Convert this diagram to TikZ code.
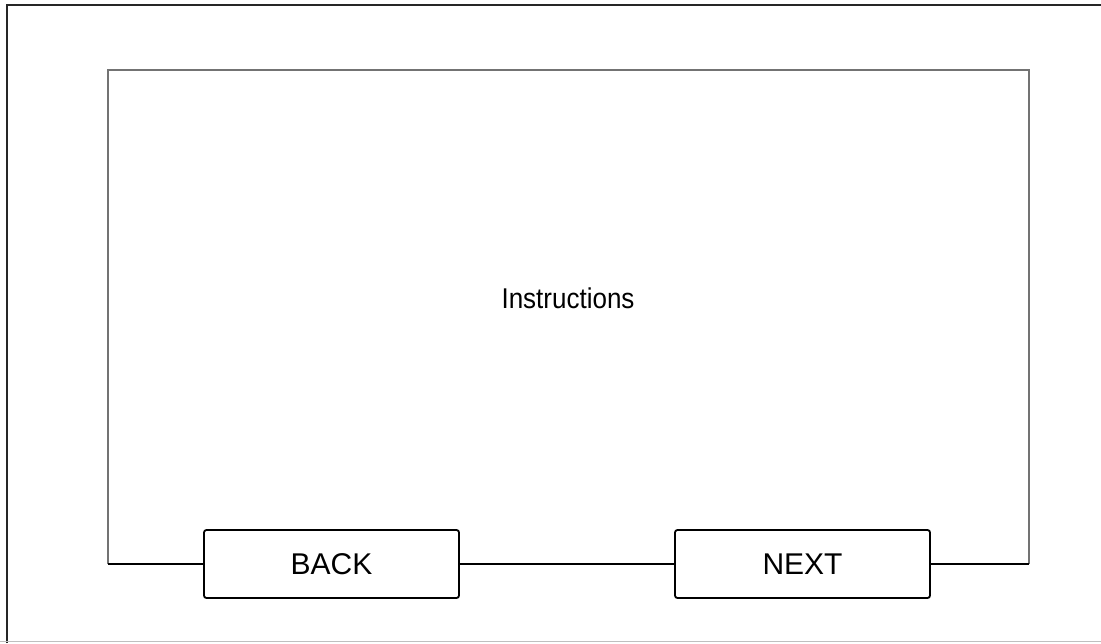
\documentclass[tikz,border=0pt]{standalone}
\usepackage{fontspec}
\setmainfont{Liberation Sans}
\usepackage{tikz}
\usetikzlibrary{positioning}
\usetikzlibrary{calc}

\begin{document}
\begin{tikzpicture} [
    x=1pt, y=-1pt,                  % Screen units, y grows downwards
    ]
% -------------------------------------------------
\tikzset{
  button/.style={draw, line width=1.8pt, rounded corners=2.5pt, rectangle, minimum width=255pt, minimum height=68pt, font=\fontsize{30}{32}\selectfont},
  line/.style={draw, line width=1.8pt},
  panel/.style={draw, color=black!55, line width=1.4pt}
}

    \useasboundingbox (0,0) rectangle (1101,643);

    \draw[line width=2pt, color=black!85] (7,643) -- (7,5) -- (1101,5);     % screen: left and top edge
    \draw[line width=1pt, color=black!25] (0,641.5) -- (1101,641.5);        % screen: bottom edge

    \coordinate (bl) at (108,564);
    \coordinate (tl) at (108,70);
    \coordinate (tr) at (1029,70);
    \coordinate (br) at (1029,564);

    \node [font=\fontsize{26}{28}\selectfont, yscale=1.1] (ins) at (568,298) {Instructions};

    \node [button, fill=white] (bck) at (331.5,564) {BACK};
    \node [button, fill=white] (nxt) at (802.5,564) {NEXT};

    \path [panel] (bl) -- (tl) -- (tr) -- (br);

    \path [line] (bl) -- (bck);
    \path [line] (bck) -- (nxt);
    \path [line] (nxt) -- (br);

\end{tikzpicture}
\end{document}
